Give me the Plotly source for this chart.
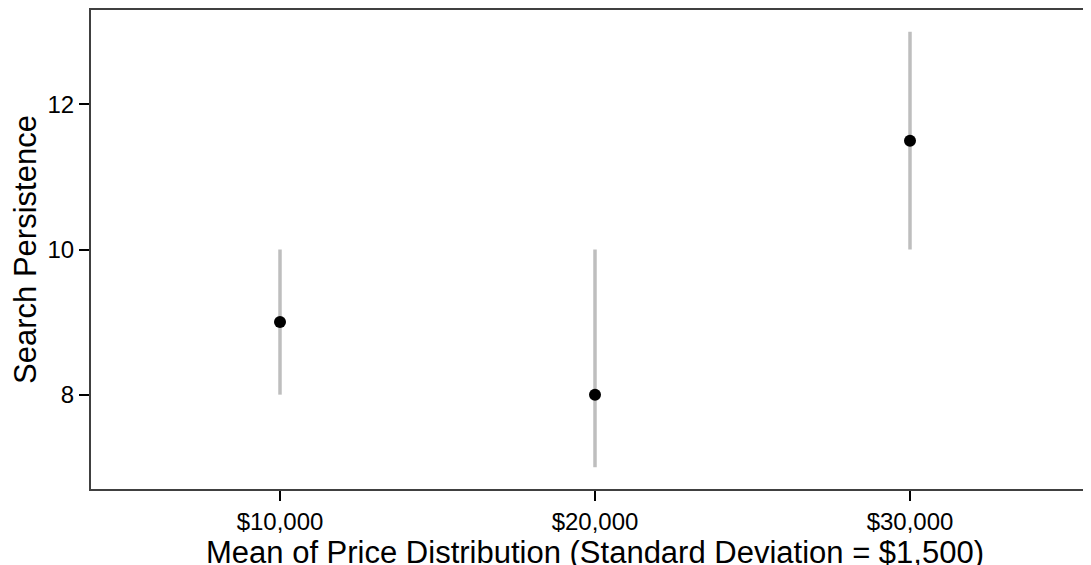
import plotly.graph_objects as go

categories = ["$10,000", "$20,000", "$30,000"]
persistence = [9, 8, 11.5]
upper = [10, 10, 13]
lower = [8, 7, 10]

xpos = [1, 2, 3]
err_plus = [u - v for u, v in zip(upper, persistence)]
err_minus = [v - l for v, l in zip(persistence, lower)]

fig = go.Figure()
fig.add_trace(go.Scatter(
    x=xpos, y=persistence, mode="markers",
    marker=dict(color="black", size=12),
    error_y=dict(type="data", symmetric=False, array=err_plus, arrayminus=err_minus,
                 color="#bebebe", thickness=3.5, width=0),
    showlegend=False,
))

font = "Liberation Sans, Arial, Helvetica, sans-serif"
fig.update_layout(
    width=1091, height=565,
    margin=dict(l=83, r=0, t=1.5, b=84),
    plot_bgcolor="white", paper_bgcolor="white",
    font=dict(family=font, color="black"),
    xaxis=dict(
        range=[0.4, 3.6], tickvals=xpos, ticktext=categories,
        showgrid=False, zeroline=False,
        showline=True, linecolor="#404040", linewidth=2, mirror=True,
        ticks="outside", ticklen=10, tickwidth=2, tickcolor="black",
        tickfont=dict(size=24, family=font, color="black"),
        title=dict(text="Mean of Price Distribution (Standard Deviation = $1,500)",
                   font=dict(size=31, family=font, color="black"), standoff=0),
    ),
    yaxis=dict(
        range=[6.7, 13.3], tickvals=[8, 10, 12],
        showgrid=False, zeroline=False,
        showline=True, linecolor="#404040", linewidth=2, mirror=False,
        ticks="outside", ticklen=10, tickwidth=2, tickcolor="black",
        tickfont=dict(size=24, family=font, color="black"),
        title=dict(text="Search Persistence",
                   font=dict(size=31, family=font, color="black"), standoff=6),
    ),
)

fig.write_html("out.html")
